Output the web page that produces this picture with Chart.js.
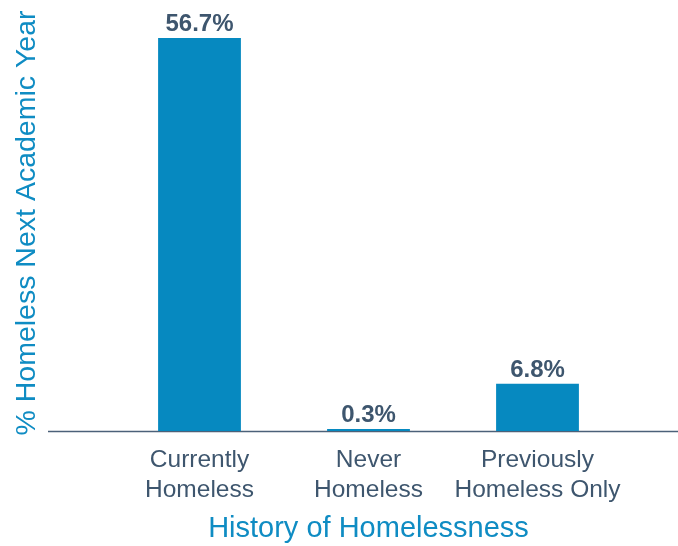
<!DOCTYPE html>
<html>
<head>
<meta charset="utf-8">
<script src="https://cdn.jsdelivr.net/npm/chart.js@4/dist/chart.umd.min.js"></script>
<style>
  html, body { margin: 0; padding: 0; background: #fff; }
  #wrap { width: 678px; height: 546px; }
</style>
</head>
<body>
<div id="wrap"><canvas id="homelessChart"></canvas></div>
<script>
const categorie = [['Currently', 'Homeless'], ['Never', 'Homeless'], ['Previously', 'Homeless Only']];
const valori = [56.7, 0.3, 6.8];

const FONT = "'Liberation Sans', Arial, Helvetica, sans-serif";
const BLU = '#0689c0';
const TITOLI = '#0f8cc3';
const TESTO = '#3e566e';

// etichette percentuali sopra le barre
const etichette = {
  id: 'etichette',
  afterDatasetsDraw(chart) {
    const ctx = chart.ctx;
    const meta = chart.getDatasetMeta(0);
    ctx.save();
    ctx.font = 'bold 24px ' + FONT;
    ctx.fillStyle = TESTO;
    ctx.textAlign = 'center';
    ctx.textBaseline = 'alphabetic';
    meta.data.forEach((bar, i) => {
      ctx.fillText(valori[i].toFixed(1) + '%', bar.x, bar.y - 7);
    });
    ctx.restore();
  }
};

// linea di base su tutta la larghezza
const lineaBase = {
  id: 'lineaBase',
  beforeDatasetsDraw(chart) {
    const ctx = chart.ctx;
    const y = Math.round(chart.scales.y.getPixelForValue(0)) + 0.5;
    ctx.save();
    ctx.strokeStyle = '#4b6179';
    ctx.lineWidth = 1.5;
    ctx.beginPath();
    ctx.moveTo(48, y);
    ctx.lineTo(chart.width, y);
    ctx.stroke();
    ctx.restore();
  }
};

new Chart(document.getElementById('homelessChart'), {
  type: 'bar',
  data: {
    labels: categorie,
    datasets: [{
      data: valori,
      backgroundColor: BLU,
      barPercentage: 0.49,
      categoryPercentage: 1
    }]
  },
  options: {
    responsive: true,
    maintainAspectRatio: false,
    animation: false,
    layout: { padding: { top: 15, right: 56, bottom: 0, left: 0 } },
    plugins: {
      legend: { display: false },
      tooltip: { enabled: false }
    },
    scales: {
      x: {
        grid: { display: false, drawTicks: false },
        border: { display: false },
        ticks: {
          color: TESTO,
          font: { family: FONT, size: 24.5, lineHeight: 1.2 },
          padding: 15,
          autoSkip: false,
          maxRotation: 0
        },
        title: {
          display: true,
          text: 'History of Homelessness',
          color: TITOLI,
          font: { family: FONT, size: 29, lineHeight: 1.2 },
          padding: { top: 7, bottom: 0 }
        },
        afterFit(scale) { scale.height = 115; }
      },
      y: {
        min: 0,
        max: 60,
        grid: { display: false, drawTicks: false },
        border: { display: false },
        ticks: { display: false },
        title: {
          display: true,
          text: '% Homeless Next Academic Year',
          color: TITOLI,
          font: { family: FONT, size: 28.5, lineHeight: 1.2 },
          padding: { top: 10, bottom: 0 }
        },
        afterFit(scale) { scale.width = 115; }
      }
    }
  },
  plugins: [lineaBase, etichette]
});
</script>
</body>
</html>
